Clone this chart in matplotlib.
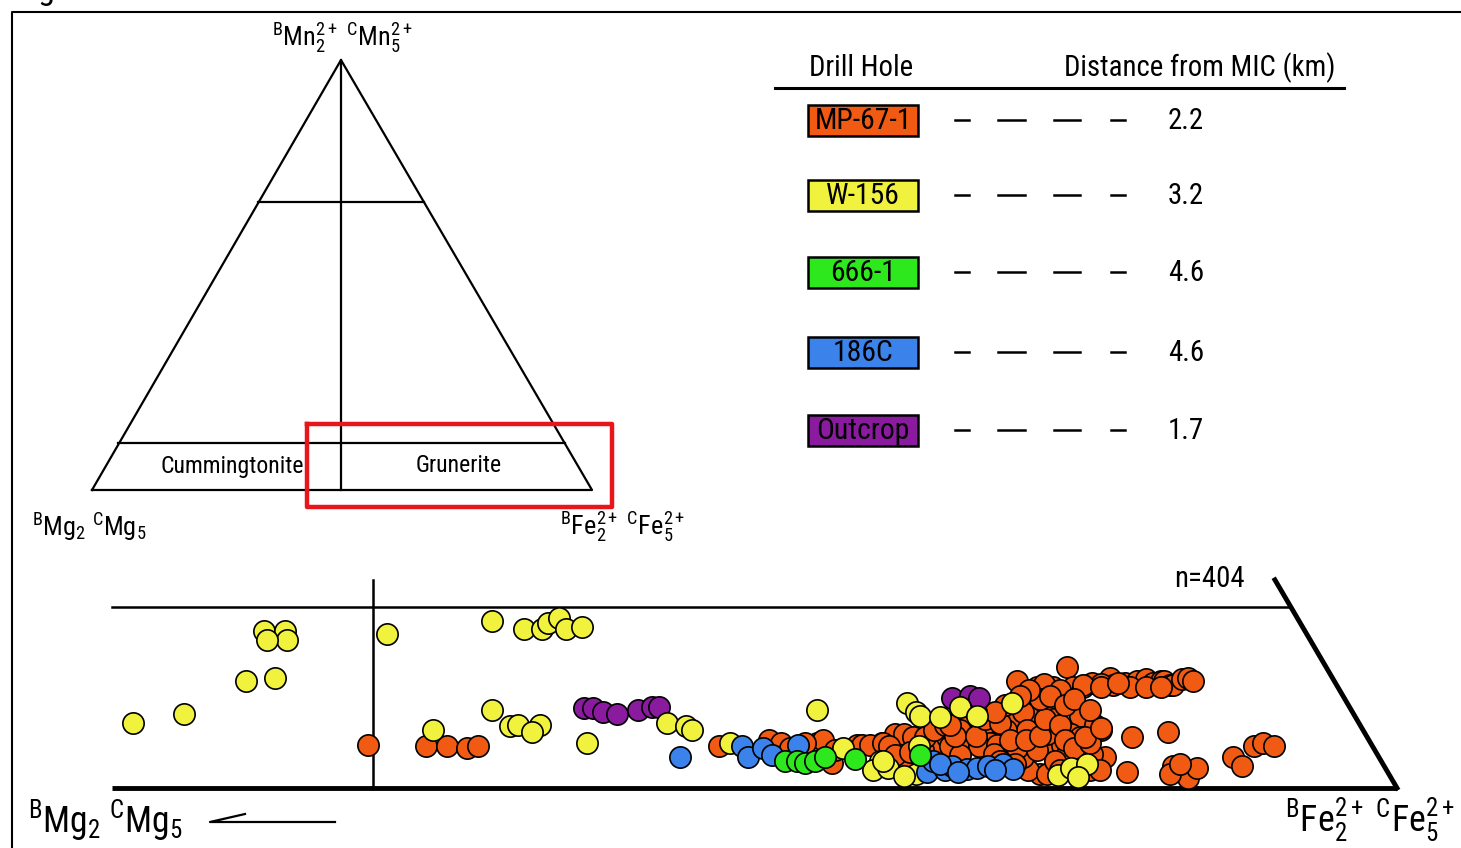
import numpy as np
import matplotlib
matplotlib.use("Agg")
import matplotlib.pyplot as plt
from matplotlib import font_manager

# the original uses a condensed sans; take the narrowest thing installed
fonts = font_manager.fontManager.ttflist
names = set(f.name for f in fonts)
fam, stretch, k = None, "normal", 1.22
for n in ["Liberation Sans Narrow", "Roboto Condensed", "Open Sans Condensed",
          "Noto Sans Condensed", "DejaVu Sans Condensed"]:
    if n in names:
        fam = n
        break
if fam is None:
    for f in fonts:
        if f.name in ("DejaVu Sans", "Noto Sans", "Open Sans") and f.stretch in ("condensed", "semi-condensed"):
            fam, stretch = f.name, f.stretch
            break
if fam is None:
    fam, k = "Roboto", 1.0
plt.rcParams["font.family"] = [fam, "DejaVu Sans"]
plt.rcParams["font.stretch"] = stretch
spec = fam if stretch == "normal" else fam + ":stretch=" + stretch
plt.rcParams["mathtext.fontset"] = "custom"
plt.rcParams["mathtext.rm"] = spec
plt.rcParams["mathtext.it"] = spec
plt.rcParams["mathtext.bf"] = spec

# legend table
holes = ["MP-67-1", "W-156", "666-1", "186C", "Outcrop"]
dist = ["2.2", "3.2", "4.6", "4.6", "1.7"]
colors = ["#F15A12", "#F0F23E", "#2EE81E", "#3B82EA", "#8A1A9E"]

# scatter data: x = position along Mg -> Fe join (%), y = Mn (relative units, 0-10)
mp_x = [19.9, 24.4, 26.1, 27.6, 28.5, 47.2, 51.1, 52.1, 54.9, 55.3, 56.0, 58.0, 58.4, 59.9, 60.9,
        53.9, 52.8, 56.3, 59.0,
        70.4, 72.0, 73.2, 74.3, 74.8, 75.6, 76.3, 77.7, 77.9, 78.8, 79.8, 80.5, 81.0, 81.6, 81.9,
        82.3, 82.6, 83.3, 83.7, 84.1, 77.0, 72.5, 73.8, 79.2, 75.6, 77.0, 78.3, 80.5, 81.6,
        71.8, 73.2, 75.3, 77.0, 74.6, 72.5, 73.9, 71.4, 70.7, 69.3, 67.8, 66.2, 68.3, 66.8, 65.8,
        64.3, 61.3, 60.0, 61.6, 79.4, 82.2, 77.3, 76.3, 72.2, 71.3, 79.0, 70.4, 71.2, 75.3, 73.2,
        68.6, 65.0, 63.1, 62.3, 69.6, 70.9, 74.3, 75.6,
        70.9, 73.2, 72.8, 71.2, 69.6, 66.0, 66.5, 65.2, 67.5, 68.9, 70.4, 72.0, 72.8, 60.5, 61.6,
        66.0, 68.6,
        60.9, 62.1, 63.3, 64.0, 64.8, 65.6, 67.2, 67.9, 69.1, 69.9, 71.1, 72.2, 72.6, 73.8, 74.2,
        74.9, 76.1, 76.5, 69.1, 70.3, 73.4, 73.8, 76.1, 72.2, 73.0, 74.2, 74.9, 76.1, 69.5, 68.7,
        67.2, 65.2, 71.4, 70.7, 76.9, 75.7, 77.0,
        82.6, 83.3, 83.7, 84.4, 82.3, 83.1, 87.2, 87.9, 88.9, 89.6, 90.4]
mp_y = [2.4, 2.3, 2.3, 2.2, 2.3, 2.3, 2.65, 2.5, 2.5, 2.65, 1.4, 2.4, 2.4, 2.5, 3.0,
        2.5, 2.2, 2.1, 2.4,
        5.9, 5.6, 5.6, 6.7, 5.6, 5.6, 5.8, 6.1, 5.7, 5.8, 5.9, 6.0, 5.8, 5.9, 5.9,
        5.7, 5.7, 6.0, 6.1, 5.9, 5.75, 5.75, 5.4, 5.6, 5.7, 5.6, 5.8, 5.6, 5.6,
        4.9, 4.5, 4.0, 3.2, 3.0, 2.3, 2.4, 3.8, 3.4, 3.2, 3.4, 3.8, 2.5, 2.5, 2.4,
        2.4, 2.4, 2.5, 3.0, 2.8, 3.1, 1.7, 1.9, 0.8, 1.0, 0.9, 3.9, 4.1, 2.8, 3.2,
        3.9, 2.8, 2.1, 2.8, 1.9, 1.7, 1.9, 1.4,
        4.2, 3.8, 3.0, 3.2, 3.2, 3.2, 2.5, 2.3, 2.3, 2.4, 2.2, 2.1, 0.8, 2.3, 1.4,
        1.8, 1.9,
        1.8, 2.0, 2.8, 3.2, 3.5, 2.9, 2.9, 3.8, 3.6, 2.65, 2.65, 2.9, 3.8, 3.5, 2.65,
        2.2, 2.5, 3.5, 1.5, 1.3, 1.5, 1.0, 1.0, 4.9, 5.1, 4.6, 4.9, 4.3, 4.6, 4.2,
        4.2, 3.5, 5.4, 5.1, 1.0, 2.8, 3.3,
        1.2, 1.0, 0.55, 1.1, 0.8, 1.3, 1.7, 1.2, 2.3, 2.5, 2.3]

out_x = [36.7, 37.4, 38.2, 39.3, 40.9, 42.0, 42.6, 65.4, 66.8, 67.5]
out_y = [4.4, 4.4, 4.2, 4.1, 4.3, 4.5, 4.5, 5.0, 5.1, 5.0]

w_x = [1.6, 5.6, 10.4, 12.7, 11.8, 13.5, 13.6, 12.1, 21.4, 29.6, 32.1, 33.5, 33.9, 34.8, 35.3, 36.6,
       25.0, 29.6, 31.0, 31.6, 33.3, 32.7, 37.0, 43.2, 44.7, 45.1, 54.9, 48.1, 56.9, 59.8, 59.2,
       60.4, 61.9, 62.6, 62.9, 64.4, 66.0, 67.3, 70.0, 60.0, 62.6, 62.8, 73.6, 74.6, 75.9, 75.2, 61.6]
w_y = [3.6, 4.1, 5.9, 6.1, 8.7, 8.7, 8.2, 8.2, 8.5, 9.2, 8.8, 8.8, 9.1, 9.4, 8.8, 8.9,
       3.2, 4.3, 3.4, 3.5, 3.5, 3.1, 2.5, 3.6, 3.4, 3.2, 4.3, 2.5, 2.2, 1.5, 1.0,
       1.1, 4.7, 4.2, 4.0, 3.9, 4.5, 4.0, 4.7, 1.5, 0.8, 2.3, 0.7, 1.1, 1.3, 0.6, 0.65]

b_x = [44.2, 49.0, 49.5, 50.7, 51.4, 53.4, 63.4, 63.9, 64.8, 65.4, 66.5, 67.3, 68.2, 69.3, 70.1,
       64.4, 65.8, 68.7]
b_y = [1.7, 2.3, 1.7, 2.2, 1.8, 2.4, 0.9, 1.5, 1.0, 1.2, 1.05, 1.1, 1.2, 1.3, 1.05,
       1.3, 0.9, 1.0]

g_x = [52.4, 53.3, 53.9, 54.7, 55.5, 57.8, 62.9]
g_y = [1.5, 1.5, 1.4, 1.5, 1.7, 1.6, 1.8]

W, H = 1461, 848
fig = plt.figure(figsize=(W / 100, H / 100), dpi=100)
ax = fig.add_axes([0, 0, 1, 1])
ax.set_xlim(0, W)
ax.set_ylim(H, 0)
ax.axis("off")

# frame (open on the right, runs off the page)
ax.plot([12, 12, W], [H, 12, 12], color="k", lw=1.5)
ax.text(14, -1, "Figure 3", fontsize=20 * k, va="baseline", ha="left")

# ternary sketch
ax.plot([92, 341, 592, 92], [490, 60, 490, 490], color="k", lw=1.6)
ax.plot([341, 341], [60, 490], color="k", lw=1.6)
ax.plot([258, 424], [202, 202], color="k", lw=1.6)
ax.plot([118, 565], [443, 443], color="k", lw=1.6)
ax.plot([307, 612, 612, 307, 307], [424, 424, 507, 507, 424], color="#E8161B", lw=3.2)
ax.text(232, 466, "Cummingtonite", fontsize=14 * k, ha="center", va="center")
ax.text(459, 466, "Grunerite", fontsize=14 * k, ha="center", va="center")
ax.text(342, 38, r"$^{B}$Mn$_{2}^{2+}$ $^{C}$Mn$_{5}^{2+}$", fontsize=15.5 * k, ha="center", va="center")
ax.text(32, 527, r"$^{B}$Mg$_{2}$ $^{C}$Mg$_{5}$", fontsize=15.5 * k, ha="left", va="center")
ax.text(560, 527, r"$^{B}$Fe$_{2}^{2+}$ $^{C}$Fe$_{5}^{2+}$", fontsize=15.5 * k, ha="left", va="center")

# legend table
ax.text(861, 68, "Drill Hole", fontsize=17 * k, ha="center", va="center")
ax.text(1200, 68, "Distance from MIC (km)", fontsize=17 * k, ha="center", va="center")
ax.plot([775, 1344], [88, 88], color="k", lw=2.2)
rows = [120, 195, 272, 352, 430]
for i in range(len(holes)):
    yy = rows[i]
    ax.add_patch(plt.Rectangle((808, yy - 15), 110, 31, facecolor=colors[i], edgecolor="k", lw=1.8))
    ax.text(863, yy + 1, holes[i], fontsize=17.5 * k, ha="center", va="center")
    for a, b in [(955, 969), (998, 1025), (1054, 1080), (1111, 1125)]:
        ax.plot([a, b], [yy, yy], color="k", lw=1.8)
    ax.text(1186, yy + 1, dist[i], fontsize=17 * k, ha="center", va="center")

# bottom panel
ax.text(28, 820, r"$^{B}$Mg$_{2}$ $^{C}$Mg$_{5}$", fontsize=21 * k, ha="left", va="center")
ax.plot([335, 210, 245], [822, 822, 814], color="k", lw=1.6)
ax.text(1455, 820, r"$^{B}$Fe$_{2}^{2+}$ $^{C}$Fe$_{5}^{2+}$", fontsize=21 * k, ha="right", va="center")
ax.text(1209, 579, "n=404", fontsize=17 * k, ha="center", va="center")

sx = fig.add_axes([112 / W, (H - 788) / H, 1285 / W, 181 / H])
sx.set_xlim(0, 100)
sx.set_ylim(0, 10)
sx.axis("off")
sx.plot([0, 91.5], [10, 10], color="k", lw=1.8, clip_on=False)
sx.plot([0, 100], [0, 0], color="k", lw=3.5, clip_on=False, solid_capstyle="butt")
sx.plot([100, 90.5], [0, 11.5], color="k", lw=3.5, clip_on=False)
sx.plot([20.3, 20.3], [0, 11.5], color="k", lw=1.8, clip_on=False)

ms = 235
sx.scatter(mp_x, mp_y, s=ms, c=colors[0], edgecolors="k", linewidths=1.2, clip_on=False, zorder=3)
sx.scatter(out_x, out_y, s=ms, c=colors[4], edgecolors="k", linewidths=1.2, clip_on=False, zorder=3)
sx.scatter(w_x, w_y, s=ms, c=colors[1], edgecolors="k", linewidths=1.2, clip_on=False, zorder=4)
sx.scatter(b_x, b_y, s=ms, c=colors[3], edgecolors="k", linewidths=1.2, clip_on=False, zorder=5)
sx.scatter(g_x, g_y, s=ms, c=colors[2], edgecolors="k", linewidths=1.2, clip_on=False, zorder=6)

fig.savefig("out.png", dpi=100)
